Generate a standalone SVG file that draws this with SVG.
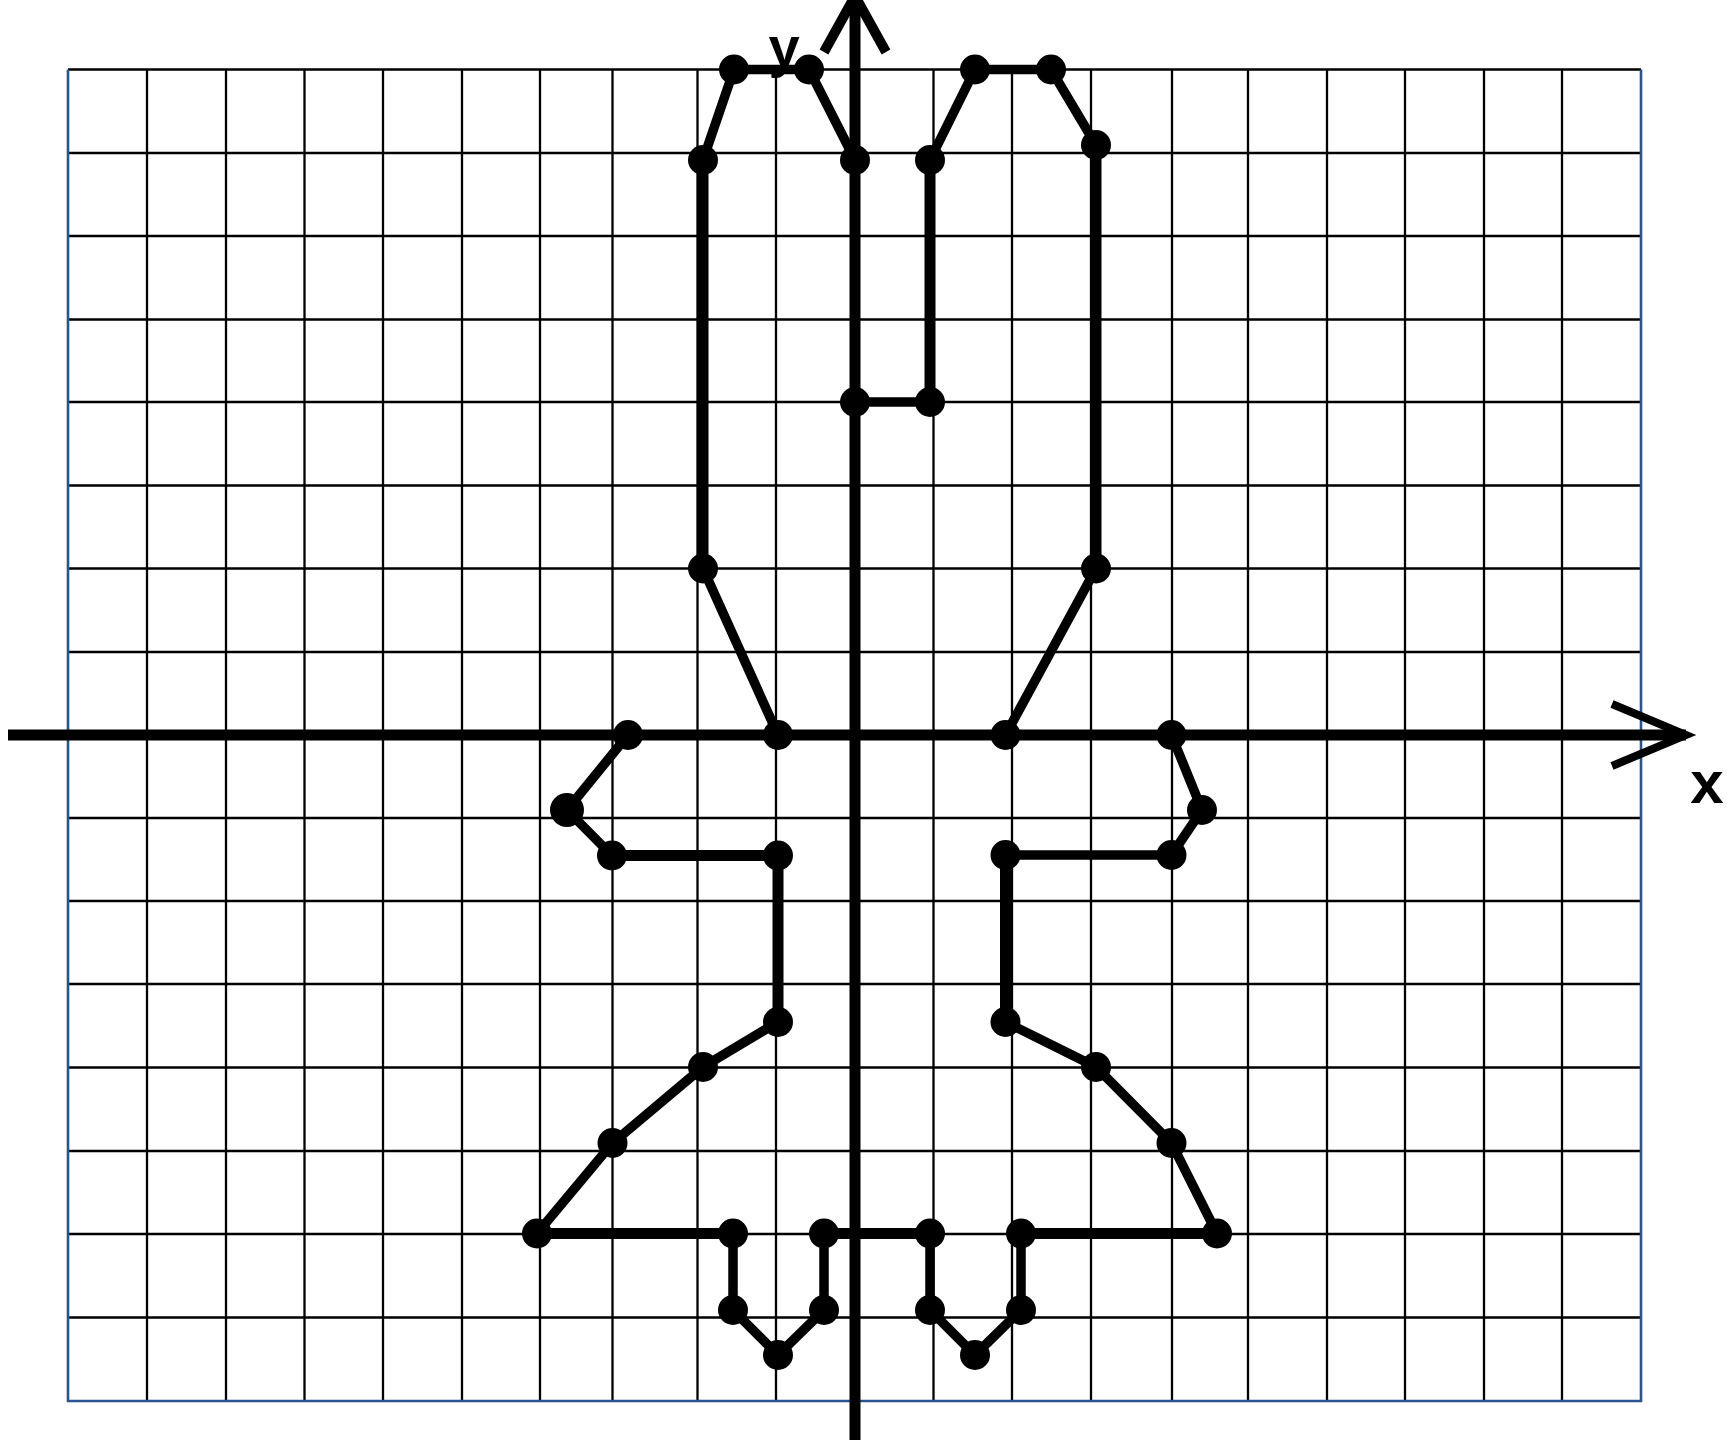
<svg xmlns="http://www.w3.org/2000/svg" width="1727" height="1440" viewBox="0 0 1727 1440">
<style>
.g{stroke:#000;stroke-width:2.3;fill:none}
.b{stroke:#2B5390;stroke-width:2.6;fill:none}
.ax{stroke:#000;stroke-width:11;fill:none}
.ar{stroke:#000;fill:none;stroke-linecap:butt}
.c{stroke:#000;stroke-width:9.5;fill:none;stroke-linecap:round}
.t{stroke-width:11}
.n{fill:#000}
.lbl{font-family:"Liberation Sans",Arial,sans-serif;font-weight:bold;font-size:56px;fill:#000;text-anchor:middle}
</style>
<rect width="1727" height="1440" fill="#fff"/>
<g id="grid">
<path class="g" d="M147 69.5V1401M226 69.5V1401M304.5 69.5V1401M383 69.5V1401M462 69.5V1401M540 69.5V1401M612.5 69.5V1401M697.5 69.5V1401M776 69.5V1401M855 69.5V1401M933.5 69.5V1401M1012 69.5V1401M1091 69.5V1401M1172 69.5V1401M1248 69.5V1401M1327 69.5V1401M1405 69.5V1401M1484 69.5V1401M1562 69.5V1401"/>
<path class="g" d="M68 69.5H1641M68 153H1641M68 236H1641M68 319.5H1641M68 402H1641M68 485.5H1641M68 568.5H1641M68 652H1641M68 818H1641M68 901H1641M68 984H1641M68 1067.5H1641M68 1151H1641M68 1234H1641M68 1317.5H1641"/>
<path class="b" d="M68 69.5V1401H1641V69.5"/>
</g>
<g id="axes">
<line class="ax" x1="8" y1="735" x2="1686" y2="735"/>
<line class="ax" x1="855" y1="0" x2="855" y2="1440"/>
<path class="ar" stroke-width="8" d="M1612 704L1686 735L1612 766"/>
<path class="ar" stroke-width="10" d="M824 52L855 -4L886 52"/>
<text class="lbl" x="784" y="66">y</text>
<text class="lbl" x="1707" y="803" style="font-size:60px">x</text>
</g>
<g id="connectors">
<path class="c" d="M703 568.5L703 160L734 69.5L809 69.5L855 160"/>
<line class="c t" x1="703" y1="568.5" x2="703" y2="160"/>
<path class="c" d="M703 568.5L778 735"/>
<path class="c" d="M855 160L855 402L930 402"/>
<line class="c t" x1="930" y1="402" x2="930" y2="160"/>
<path class="c" d="M930 160L975 69.5L1051 69.5L1096 145"/>
<line class="c t" x1="1096" y1="145" x2="1096" y2="568.5"/>
<path class="c" d="M1096 568.5L1005.5 735"/>
<path class="c" d="M1171.5 735L1202 810L1171.5 855L1005.5 855"/>
<line class="c t" x1="1005.5" y1="855" x2="1005.5" y2="1022"/>
<path class="c" d="M1005.5 1022L1096 1067L1171.5 1143L1217 1233.5"/>
<line class="c t" x1="1217" y1="1233.5" x2="1021" y2="1233.5"/>
<path class="c" d="M1021 1233.5L1021 1310L975 1355L930 1310L930 1233.5"/>
<line class="c t" x1="930" y1="1233.5" x2="824" y2="1233.5"/>
<path class="c" d="M824 1233.5L824 1310L778 1355L733 1310L733 1233.5"/>
<line class="c t" x1="733" y1="1233.5" x2="537" y2="1233.5"/>
<path class="c" d="M537 1233.5L612.5 1143L703 1067L778 1022"/>
<line class="c t" x1="778" y1="1022" x2="778" y2="855.5"/>
<line class="c t" x1="778" y1="855.5" x2="612" y2="855.5"/>
<path class="c" d="M612 855.5L567 810L628 735"/>
</g>
<g id="nodes">
<circle id="p1" class="n" cx="734" cy="69.5" r="15"/>
<circle id="p2" class="n" cx="809" cy="69.5" r="15"/>
<circle id="p3" class="n" cx="703" cy="160" r="15"/>
<circle id="p4" class="n" cx="855" cy="160" r="15"/>
<circle id="p5" class="n" cx="703" cy="568.5" r="15"/>
<circle id="p6" class="n" cx="778" cy="735" r="15"/>
<circle id="p7" class="n" cx="855" cy="402" r="15"/>
<circle id="p8" class="n" cx="930" cy="402" r="15"/>
<circle id="p9" class="n" cx="930" cy="160" r="15"/>
<circle id="p10" class="n" cx="975" cy="69.5" r="15"/>
<circle id="p11" class="n" cx="1051" cy="69.5" r="15"/>
<circle id="p12" class="n" cx="1096" cy="145" r="15"/>
<circle id="p13" class="n" cx="1096" cy="568.5" r="15"/>
<circle id="p14" class="n" cx="1005.5" cy="735" r="15"/>
<circle id="p15" class="n" cx="1171.5" cy="735" r="15"/>
<circle id="p16" class="n" cx="1202" cy="810" r="15"/>
<circle id="p17" class="n" cx="1171.5" cy="855" r="15"/>
<circle id="p18" class="n" cx="1005.5" cy="855" r="15"/>
<circle id="p19" class="n" cx="1005.5" cy="1022" r="15"/>
<circle id="p20" class="n" cx="1096" cy="1067" r="15"/>
<circle id="p21" class="n" cx="1171.5" cy="1143" r="15"/>
<circle id="p22" class="n" cx="1217" cy="1233.5" r="15"/>
<circle id="p23" class="n" cx="1021" cy="1233.5" r="15"/>
<circle id="p24" class="n" cx="1021" cy="1310" r="15"/>
<circle id="p25" class="n" cx="975" cy="1355" r="15"/>
<circle id="p26" class="n" cx="930" cy="1310" r="15"/>
<circle id="p27" class="n" cx="930" cy="1233.5" r="15"/>
<circle id="p28" class="n" cx="824" cy="1233.5" r="15"/>
<circle id="p29" class="n" cx="824" cy="1310" r="15"/>
<circle id="p30" class="n" cx="778" cy="1355" r="15"/>
<circle id="p31" class="n" cx="733" cy="1310" r="15"/>
<circle id="p32" class="n" cx="733" cy="1233.5" r="15"/>
<circle id="p33" class="n" cx="537" cy="1233.5" r="15"/>
<circle id="p34" class="n" cx="612.5" cy="1143" r="15"/>
<circle id="p35" class="n" cx="703" cy="1067" r="15"/>
<circle id="p36" class="n" cx="778" cy="1022" r="15"/>
<circle id="p37" class="n" cx="778" cy="855.5" r="15"/>
<circle id="p38" class="n" cx="612" cy="855.5" r="15"/>
<circle id="p39" class="n" cx="567" cy="810" r="17"/>
<circle id="p40" class="n" cx="628" cy="735" r="15"/>
</g>
</svg>
